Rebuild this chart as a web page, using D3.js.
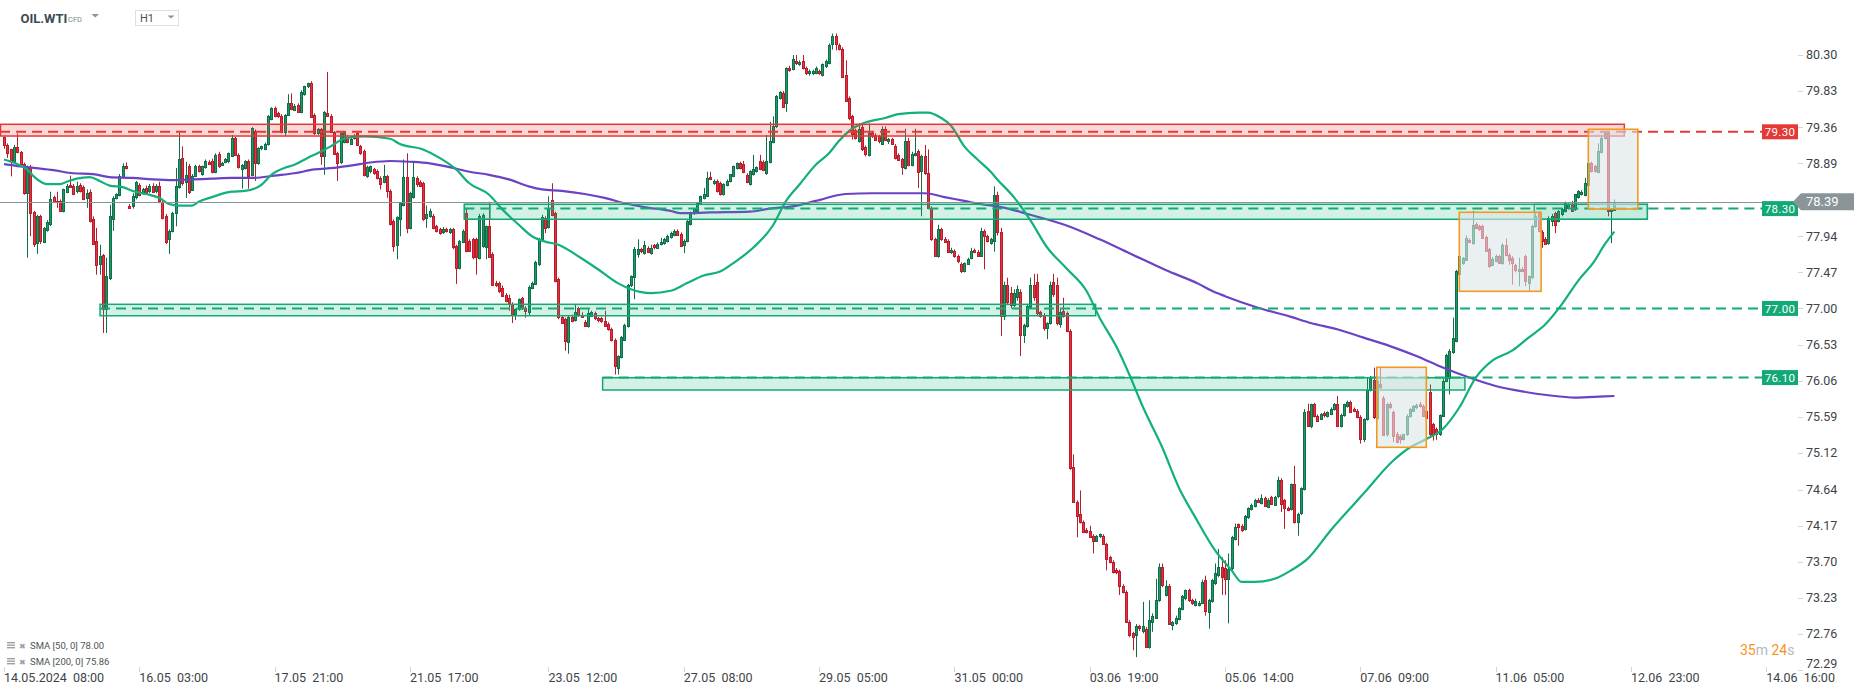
<!DOCTYPE html>
<html><head><meta charset="utf-8">
<script src="https://cdn.jsdelivr.net/npm/d3@7"></script>
<style>
html,body{margin:0;padding:0;background:#fff;overflow:hidden;}
svg{display:block;font-family:Roboto,"Noto Sans",sans-serif;}
</style></head><body>
<svg id="chart" width="1866" height="695"></svg>
<script>
// ---------- DATA ----------
// hourly candles [open, high, low, close]
const ohlc = [
[79.23,79.24,79.08,79.13],[79.13,79.15,78.96,79.02],[79.07,79.08,78.72,78.91],[78.91,79.13,78.89,79.10],[79.10,79.28,79.02,79.04],
[79.04,79.05,78.86,78.88],[78.88,78.90,78.48,78.50],[78.50,78.86,77.66,78.84],[78.84,78.87,77.94,78.24],[78.26,78.27,77.80,77.84],
[77.85,78.22,77.71,78.20],[78.20,78.22,77.84,77.87],[77.87,78.06,77.85,78.05],[78.03,78.15,78.00,78.13],[78.09,78.52,78.07,78.42],
[78.45,78.47,78.38,78.39],[78.40,78.52,78.31,78.39],[78.40,78.42,78.26,78.27],[78.27,78.56,78.25,78.55],[78.52,78.62,78.50,78.60],
[78.61,78.73,78.57,78.58],[78.60,78.62,78.48,78.50],[78.53,78.65,78.50,78.60],[78.61,78.63,78.51,78.53],[78.58,78.60,78.41,78.43],
[78.43,78.55,78.31,78.50],[78.51,78.55,78.12,78.13],[78.17,78.20,77.84,77.85],[77.88,78.05,77.44,77.57],[77.58,77.83,77.44,77.68],
[77.69,77.71,76.68,76.99],[76.99,77.66,76.68,77.42],[77.39,78.35,77.37,78.20],[78.17,78.46,78.01,78.44],[78.44,78.50,78.42,78.49],
[78.48,78.75,78.46,78.73],[78.72,78.89,78.70,78.86],[78.86,78.90,78.81,78.83],[78.34,78.36,78.30,78.32],[78.34,78.50,78.30,78.47],
[78.44,78.66,78.42,78.64],[78.61,78.63,78.46,78.48],[78.50,78.57,78.48,78.55],[78.57,78.60,78.49,78.50],[78.52,78.62,78.50,78.59],
[78.60,78.63,78.51,78.52],[78.53,78.62,78.50,78.59],[78.59,78.65,78.37,78.39],[78.39,78.41,78.16,78.18],[78.21,78.23,77.84,77.87],
[77.90,78.03,77.71,78.01],[78.01,78.26,77.99,78.24],[78.24,78.83,78.07,78.59],[78.58,79.29,78.56,78.94],[78.96,79.11,78.60,78.63],
[78.65,78.91,78.44,78.74],[78.86,78.88,78.49,78.52],[78.55,78.75,78.53,78.73],[78.73,78.87,78.71,78.86],[78.85,78.87,78.77,78.78],
[78.75,78.86,78.73,78.85],[78.84,78.94,78.82,78.92],[78.91,78.93,78.87,78.89],[78.92,78.95,78.76,78.78],[78.78,79.02,78.76,79.00],
[79.01,79.04,78.83,78.85],[78.87,78.91,78.86,78.90],[78.91,78.96,78.89,78.95],[78.91,79.03,78.89,79.02],[78.99,79.26,78.97,79.22],
[79.22,79.24,78.99,79.00],[79.00,79.02,78.82,78.84],[78.82,78.88,78.56,78.87],[78.83,78.93,78.81,78.92],[78.92,78.94,78.56,78.72],
[78.74,79.36,78.72,79.35],[79.31,79.33,78.66,78.89],[78.89,79.10,78.87,79.09],[79.08,79.12,79.06,79.11],[79.08,79.16,79.06,79.14],
[79.14,79.52,79.12,79.50],[79.47,79.62,79.45,79.61],[79.61,79.63,79.49,79.50],[79.54,79.56,79.48,79.50],[79.51,79.53,79.28,79.30],
[79.30,79.53,79.24,79.52],[79.53,79.79,79.51,79.68],[79.67,79.80,79.58,79.59],[79.59,79.66,79.57,79.64],[79.65,79.67,79.55,79.56],
[79.56,79.84,79.54,79.82],[79.79,79.90,79.77,79.89],[79.89,79.94,79.87,79.93],[79.94,79.96,79.48,79.50],[79.52,79.54,79.26,79.28],
[79.28,79.35,79.26,79.33],[79.33,79.35,78.87,78.98],[78.99,79.57,78.74,79.56],[79.55,80.08,79.50,79.51],[79.51,79.53,79.29,79.30],
[79.30,79.31,79.00,79.02],[79.02,79.04,78.66,78.89],[78.90,79.29,78.88,79.28],[79.17,79.31,79.15,79.30],[79.23,79.26,79.15,79.17],
[79.15,79.23,79.13,79.21],[79.22,79.27,79.20,79.25],[79.28,79.30,79.12,79.13],[79.11,79.13,79.00,79.02],[79.05,79.07,78.72,78.74],
[78.72,78.86,78.70,78.84],[78.78,78.86,78.76,78.85],[78.81,78.83,78.74,78.76],[78.79,78.81,78.68,78.70],[78.70,78.72,78.55,78.62],
[78.65,78.87,78.63,78.73],[78.72,78.74,78.44,78.52],[78.53,78.55,78.08,78.10],[78.14,78.16,77.74,77.82],[77.83,78.20,77.64,78.19],
[78.16,78.38,77.94,78.37],[78.35,78.94,78.33,78.71],[78.71,79.02,77.98,78.05],[78.05,78.52,78.03,78.50],[78.45,78.91,78.43,78.71],
[78.70,78.72,78.58,78.62],[78.65,78.67,78.58,78.60],[78.63,78.65,78.14,78.16],[78.18,78.34,78.05,78.23],[78.20,78.30,78.18,78.27],
[78.21,78.23,78.03,78.05],[78.07,78.09,77.99,78.01],[78.03,78.05,77.96,77.98],[77.99,78.06,77.97,78.03],[78.03,78.05,77.99,78.01],
[77.99,78.05,77.97,78.03],[78.03,78.05,77.77,77.79],[77.81,77.83,77.32,77.53],[77.53,77.89,77.51,77.88],[77.87,78.03,77.85,78.01],
[78.24,78.31,77.73,77.75],[77.88,77.90,77.74,77.75],[77.90,77.92,77.64,77.66],[77.90,77.92,77.44,77.66],[77.66,78.23,77.64,78.21],
[77.81,78.24,77.79,78.22],[77.81,78.08,77.64,78.08],[78.08,78.39,77.66,77.68],[77.71,77.73,77.30,77.31],[77.33,77.36,77.28,77.30],
[77.33,77.35,77.20,77.23],[77.27,77.30,77.15,77.16],[77.18,77.20,77.08,77.10],[77.13,77.18,76.97,77.06],[77.06,77.08,76.81,76.93],
[76.92,77.00,76.85,76.99],[76.99,77.13,76.97,77.12],[77.13,77.15,76.98,77.00],[77.01,77.03,76.88,76.97],[76.96,77.30,76.90,77.28],
[77.27,77.35,77.25,77.33],[77.33,77.62,77.31,77.61],[77.57,77.92,77.55,77.90],[77.90,78.22,77.88,78.19],[78.18,78.20,77.98,78.05],
[78.06,78.46,78.04,78.29],[78.41,78.63,78.20,78.22],[78.24,78.26,77.34,77.36],[77.38,77.40,76.86,76.88],[76.89,76.91,76.80,76.81],
[76.86,76.88,76.45,76.57],[76.57,76.90,76.41,76.89],[76.89,76.92,76.82,76.84],[76.85,77.06,76.83,76.96],[77.00,77.02,76.89,76.91],
[76.92,76.95,76.88,76.90],[76.83,76.85,76.76,76.78],[76.77,77.00,76.75,76.94],[76.91,76.97,76.89,76.96],[76.94,76.96,76.85,76.87],
[76.87,76.89,76.82,76.84],[76.87,76.89,76.81,76.83],[76.84,76.97,76.76,76.77],[76.80,76.82,76.71,76.73],[76.73,76.75,76.57,76.59],
[76.59,76.61,76.14,76.25],[76.22,76.39,76.14,76.38],[76.37,76.64,76.35,76.63],[76.60,76.80,76.58,76.79],[76.77,77.32,76.75,77.31],
[77.30,77.43,77.28,77.42],[77.41,77.80,77.12,77.77],[77.70,77.90,77.66,77.77],[77.77,77.79,77.72,77.74],[77.72,77.88,77.70,77.82],
[77.79,77.81,77.72,77.74],[77.72,77.83,77.70,77.79],[77.82,77.84,77.77,77.79],[77.79,77.86,77.78,77.84],[77.84,77.92,77.82,77.87],
[77.85,77.92,77.83,77.90],[77.88,77.96,77.86,77.94],[77.93,78.00,77.91,77.98],[77.96,78.03,77.94,78.01],[78.01,78.03,77.95,77.96],
[77.97,77.99,77.80,77.81],[77.83,77.90,77.72,77.88],[77.88,78.15,77.86,78.14],[78.10,78.26,78.08,78.25],[78.24,78.30,78.22,78.29],
[78.26,78.37,78.24,78.37],[78.37,78.47,78.35,78.46],[78.44,78.57,78.42,78.49],[78.47,78.78,78.45,78.70],[78.71,78.78,78.67,78.68],
[78.63,78.68,78.61,78.66],[78.66,78.68,78.51,78.53],[78.63,78.65,78.47,78.49],[78.49,78.63,78.47,78.62],[78.61,78.68,78.59,78.66],
[78.66,78.75,78.64,78.75],[78.73,78.86,78.71,78.86],[78.83,78.90,78.81,78.89],[78.89,78.91,78.81,78.83],[78.88,78.92,78.76,78.78],
[78.74,78.76,78.63,78.65],[78.62,78.80,78.60,78.79],[78.75,79.00,78.73,78.81],[78.79,78.85,78.77,78.84],[78.92,79.00,78.80,78.81],
[78.91,78.93,78.79,78.81],[78.76,79.26,78.74,78.92],[78.91,79.43,78.89,79.18],[79.17,79.50,79.15,79.38],[79.37,79.78,79.35,79.76],
[79.74,79.83,79.72,79.82],[79.81,79.83,79.61,79.63],[79.67,80.14,79.56,80.13],[80.13,80.16,80.08,80.10],[80.12,80.30,80.10,80.25],
[80.22,80.30,80.17,80.19],[80.18,80.23,80.16,80.21],[80.22,80.30,80.11,80.13],[80.13,80.15,80.04,80.06],[80.06,80.11,80.03,80.09],
[80.06,80.11,80.04,80.09],[80.07,80.15,80.05,80.13],[80.09,80.11,80.04,80.06],[80.04,80.19,80.02,80.18],[80.15,80.24,80.13,80.22],
[80.20,80.45,80.18,80.43],[80.45,80.58,80.37,80.55],[80.55,80.58,80.36,80.45],[80.43,80.45,80.36,80.38],[80.38,80.40,80.01,80.02],
[80.04,80.23,79.69,79.70],[79.74,79.76,79.45,79.48],[79.50,79.52,79.20,79.26],[79.32,79.34,79.20,79.22],[79.18,79.41,79.16,79.33],
[79.36,79.39,79.05,79.07],[79.10,79.12,78.98,79.01],[79.00,79.41,78.98,79.28],[79.28,79.30,79.22,79.24],[79.26,79.28,79.18,79.20],
[79.24,79.26,79.15,79.18],[79.15,79.37,79.13,79.34],[79.34,79.37,79.19,79.20],[79.17,79.22,79.14,79.20],[79.20,79.22,79.13,79.14],
[79.12,79.14,78.94,78.96],[79.00,79.02,78.92,78.94],[78.94,78.96,78.74,78.83],[78.83,79.34,78.81,79.18],[79.18,79.22,78.85,78.87],
[78.87,79.04,78.85,79.01],[79.00,79.34,78.98,79.02],[79.05,79.07,78.57,78.78],[78.78,79.00,78.20,78.98],[78.98,79.13,78.74,78.76],
[78.76,79.07,78.30,78.31],[78.31,78.33,77.88,77.90],[77.90,77.92,77.67,77.68],[77.68,78.09,77.66,78.03],[78.03,78.05,77.88,77.90],
[77.91,77.93,77.86,77.87],[77.88,77.90,77.73,77.74],[77.73,77.79,77.71,77.76],[77.75,77.77,77.66,77.68],[77.68,77.70,77.59,77.62],
[77.58,77.60,77.46,77.49],[77.49,77.60,77.47,77.59],[77.59,77.66,77.57,77.65],[77.66,77.79,77.64,77.75],[77.76,77.78,77.72,77.74],
[77.74,77.76,77.68,77.69],[77.69,78.05,77.67,78.01],[78.01,78.03,77.51,77.94],[77.94,77.96,77.86,77.88],[77.85,77.92,77.83,77.90],
[77.88,78.59,77.74,78.48],[78.48,78.52,77.95,78.00],[78.00,78.05,76.64,76.90],[76.90,77.35,76.85,77.30],[77.30,77.40,77.05,77.08],
[77.20,77.28,77.00,77.05],[77.05,77.25,77.02,77.20],[77.15,77.30,77.10,77.25],[77.22,77.25,76.38,76.66],[76.66,76.80,76.55,76.79],
[76.77,77.05,76.75,77.03],[77.01,77.40,76.99,77.30],[77.30,77.45,77.10,77.15],[77.35,77.45,76.90,76.95],[76.95,76.97,76.88,76.90],
[76.92,76.94,76.71,76.75],[76.75,76.82,76.60,76.81],[76.81,77.35,76.79,77.30],[77.35,77.45,77.15,77.20],[77.30,77.40,76.78,76.80],
[76.80,77.00,76.75,76.95],[76.97,77.14,76.88,76.90],[76.94,76.96,76.69,76.71],[76.71,76.73,74.90,74.93],[74.93,75.10,74.47,74.48],
[74.48,74.50,74.02,74.30],[74.32,74.63,74.20,74.22],[74.22,74.24,74.08,74.09],[74.12,74.14,74.07,74.09],[74.10,74.17,74.01,74.02],
[74.04,74.06,73.81,73.97],[73.98,74.05,73.96,74.04],[74.03,74.07,74.01,74.06],[74.04,74.06,73.92,73.94],[73.93,73.95,73.59,73.74],
[73.76,73.78,73.68,73.70],[73.70,73.72,73.55,73.57],[73.59,73.62,73.54,73.57],[73.58,73.60,73.27,73.39],[73.39,73.41,73.29,73.31],
[73.31,73.33,72.92,72.92],[72.92,72.94,72.72,72.75],[72.77,72.79,72.55,72.72],[72.75,72.89,72.46,72.87],[72.86,72.88,72.80,72.83],
[72.79,73.18,72.77,72.86],[72.83,72.85,72.58,72.59],[72.59,73.20,72.57,72.94],[72.92,73.03,72.79,73.00],[72.98,73.48,72.96,73.21],
[73.20,73.68,73.18,73.63],[73.63,73.68,73.37,73.39],[73.27,73.46,73.25,73.39],[73.39,73.41,72.88,72.90],[72.88,72.93,72.81,72.92],
[72.90,73.00,72.88,72.97],[72.96,73.11,72.94,73.10],[73.09,73.27,73.07,73.26],[73.22,73.34,73.20,73.33],[73.33,73.35,73.18,73.20],
[73.20,73.22,73.14,73.16],[73.14,73.22,73.12,73.19],[73.14,73.19,73.12,73.17],[73.17,73.47,73.15,73.44],[73.46,73.52,73.00,73.05],
[73.05,73.22,72.83,73.20],[73.19,73.48,73.17,73.46],[73.42,73.68,73.40,73.55],[73.52,73.87,73.50,73.63],[73.64,73.76,73.27,73.51],
[73.62,73.72,73.27,73.48],[73.48,73.81,72.90,73.61],[73.61,74.04,73.59,74.02],[74.00,74.20,73.98,74.15],[74.19,74.20,73.91,74.15],
[74.17,74.19,74.09,74.12],[74.13,74.31,74.11,74.30],[74.28,74.41,74.26,74.40],[74.39,74.46,74.37,74.44],[74.43,74.52,74.41,74.51],
[74.51,74.53,74.47,74.48],[74.47,74.58,74.45,74.53],[74.53,74.55,74.43,74.43],[74.42,74.53,74.40,74.51],[74.54,74.56,74.44,74.45],
[74.45,74.56,74.43,74.55],[74.55,74.81,74.53,74.76],[74.77,74.79,74.35,74.46],[74.50,74.52,74.13,74.40],[74.40,74.42,74.36,74.38],
[74.39,74.72,74.37,74.71],[74.71,74.95,74.20,74.21],[74.22,74.34,74.04,74.33],[74.33,74.67,74.31,74.66],[74.65,75.69,74.63,75.65],
[75.67,75.76,75.46,75.47],[75.46,75.76,75.44,75.75],[75.75,75.77,75.58,75.59],[75.60,75.62,75.53,75.54],[75.57,75.64,75.55,75.63],
[75.64,75.66,75.58,75.61],[75.60,75.66,75.58,75.65],[75.63,75.71,75.61,75.69],[75.69,75.77,75.67,75.75],[75.75,75.86,75.46,75.47],
[75.47,75.63,75.45,75.61],[75.61,75.76,75.59,75.75],[75.73,75.80,75.71,75.78],[75.78,75.80,75.64,75.65],[75.69,75.71,75.65,75.67],
[75.67,75.69,75.57,75.59],[75.59,75.61,75.24,75.30],[75.30,75.57,75.26,75.56],[75.56,76.10,75.54,75.94],[75.94,76.12,75.92,76.10],
[76.07,76.23,75.56,75.59],[75.58,76.08,75.55,76.06],[76.01,76.24,75.95,75.97],[75.84,75.86,75.34,75.36],[75.36,75.77,75.33,75.75],
[75.75,75.78,75.69,75.71],[75.65,75.67,75.26,75.34],[75.37,75.39,75.25,75.26],[75.34,75.36,75.24,75.30],[75.30,75.37,75.28,75.36],
[75.36,75.62,75.34,75.60],[75.60,75.70,75.58,75.69],[75.67,75.74,75.65,75.73],[75.71,75.76,75.69,75.74],[75.75,75.78,75.71,75.72],
[75.73,75.75,75.59,75.60],[75.67,75.69,75.57,75.58],[75.91,76.01,75.34,75.36],[75.49,75.51,75.28,75.36],[75.43,75.45,75.29,75.36],
[75.36,75.62,75.34,75.61],[75.61,76.08,75.59,76.06],[76.06,76.41,76.04,76.40],[76.10,76.47,75.88,76.45],[76.43,76.88,76.41,76.61],
[76.58,77.50,76.56,77.49],[77.44,77.68,77.27,77.68],[77.59,77.67,77.57,77.66],[77.64,77.95,77.62,77.92],[77.89,77.91,77.86,77.87],
[77.85,78.27,77.83,78.09],[78.10,78.12,78.04,78.05],[78.07,78.09,78.01,78.03],[78.07,78.09,77.91,77.92],[77.93,77.95,77.74,77.75],
[77.77,77.79,77.53,77.55],[77.57,77.67,77.55,77.65],[77.62,77.70,77.60,77.68],[77.68,77.70,77.58,77.59],[77.59,77.85,77.57,77.83],
[77.82,77.91,77.68,77.69],[77.70,77.72,77.57,77.64],[77.66,77.68,77.31,77.59],[77.56,77.58,77.47,77.49],[77.49,77.66,77.29,77.52],
[77.52,77.54,77.47,77.49],[77.68,77.70,77.29,77.36],[77.33,77.43,77.23,77.42],[77.40,78.09,77.38,78.07],[78.07,78.24,78.05,78.20],
[78.24,78.26,77.99,78.00],[78.00,78.02,77.79,77.88],[77.91,77.93,77.84,77.85],[77.85,78.20,77.83,78.18],[78.14,78.23,78.07,78.21],
[78.24,78.26,77.98,78.09],[78.14,78.28,78.12,78.27],[78.22,78.31,78.20,78.29],[78.27,78.39,78.25,78.37],[78.31,78.37,78.29,78.36],
[78.36,78.40,78.26,78.27],[78.29,78.49,78.27,78.49],[78.45,78.54,78.43,78.53],[78.49,78.54,78.47,78.52],[78.48,78.70,78.46,78.63],
[78.61,78.91,78.59,78.89],[78.89,78.91,78.77,78.79],[78.85,78.87,78.77,78.79],[78.78,79.15,78.76,79.05],[79.04,79.26,79.02,79.22],
[79.22,79.30,79.20,79.28],[79.28,79.31,78.20,78.27],[78.27,78.31,77.85,78.29],[78.29,78.42,78.27,78.39]
];
// SMA samples: [bar index, value]
const sma50 = [[0,78.94],[4,78.88],[7,78.81],[9,78.72],[13,78.62],[17,78.62],[19,78.65],[22,78.69],[26,78.71],[29,78.66],[32,78.60],[36,78.58],[39,78.53],[43,78.49],[47,78.44],[50,78.36],[53,78.34],[57,78.34],[59,78.39],[63,78.45],[69,78.52],[73,78.53],[78,78.61],[81,78.74],[85,78.83],[88,78.87],[92,78.96],[95,79.02],[99,79.11],[103,79.21],[109,79.24],[117,79.21],[120,79.14],[127,79.07],[132,78.96],[137,78.81],[141,78.63],[147,78.48],[151,78.29],[156,78.09],[160,77.94],[164,77.87],[168,77.83],[174,77.68],[180,77.51],[186,77.33],[190,77.25],[196,77.20],[202,77.23],[207,77.33],[212,77.43],[217,77.48],[221,77.59],[227,77.79],[233,78.08],[237,78.40],[241,78.61],[246,78.87],[250,79.02],[253,79.18],[257,79.34],[261,79.42],[267,79.48],[271,79.53],[277,79.55],[280,79.55],[284,79.48],[287,79.38],[291,79.11],[295,78.94],[299,78.78],[301,78.68],[306,78.45],[311,78.15],[316,77.80],[322,77.52],[328,77.23],[332,76.88],[337,76.51],[341,76.14],[345,75.73],[351,75.19],[356,74.67],[361,74.28],[367,73.85],[372,73.59],[375,73.44],[379,73.44],[385,73.48],[390,73.59],[395,73.74],[402,74.11],[412,74.59],[421,75.02],[426,75.19],[431,75.30],[436,75.43],[441,75.71],[446,76.10],[451,76.32],[457,76.45],[462,76.62],[467,76.79],[472,77.05],[477,77.36],[482,77.62],[485,77.83],[488,78.00]];
const sma200 = [[0,78.88],[5,78.85],[9,78.83],[15,78.80],[21,78.76],[27,78.75],[32,78.71],[39,78.70],[45,78.68],[51,78.67],[57,78.68],[63,78.69],[69,78.70],[76,78.70],[82,78.73],[88,78.76],[94,78.81],[100,78.83],[105,78.86],[111,78.90],[117,78.92],[123,78.91],[129,78.89],[135,78.84],[141,78.78],[147,78.74],[153,78.68],[159,78.59],[163,78.55],[169,78.53],[176,78.49],[182,78.44],[188,78.37],[194,78.32],[202,78.27],[205,78.24],[214,78.25],[226,78.26],[232,78.30],[239,78.33],[246,78.40],[255,78.49],[263,78.50],[271,78.50],[279,78.50],[285,78.45],[291,78.40],[297,78.35],[301,78.33],[311,78.22],[322,78.08],[332,77.90],[342,77.70],[352,77.50],[362,77.32],[366,77.23],[370,77.16],[380,77.01],[390,76.89],[396,76.81],[404,76.73],[412,76.62],[420,76.51],[428,76.38],[436,76.23],[444,76.10],[452,75.99],[460,75.92],[468,75.87],[476,75.84],[482,75.85],[488,75.86]];
const yTickValues = [80.30,79.83,79.36,78.89,77.94,77.47,77.00,76.53,76.06,75.59,75.12,74.64,74.17,73.70,73.23,72.76,72.29];
const xTickIndex = [0,41,82,123,165,206,247,288,329,370,411,452,493,534];
const xTickLabels = ["14.05.2024  08:00","16.05  03:00","17.05  21:00","21.05  17:00","23.05  12:00","27.05  08:00","29.05  05:00","31.05  00:00","03.06  19:00","05.06  14:00","07.06  09:00","11.06  05:00","12.06  23:00","14.06  16:00"];
// horizontal levels: price, zone [startIdx, endIdx, top, bottom], colour
const levelPrices = [79.30, 78.30, 77.00, 76.10];
const levelKinds = ["resistance","support","support","support"];
const zoneStart = [-1.2, 139.5, 29.1, 181.4];
const zoneEnd = [491, 498, 330.8, 442.7];
const zoneTop = [79.398, 78.356, 77.054, 76.098];
const zoneBottom = [79.245, 78.161, 76.905, 75.938];
const extraZones = [[139.5,147.3,78.356,78.161],[463.7,498,78.356,78.161]];
// orange consolidation boxes: [startIdx, endIdx, high, low]
const boxes = [[416,431,76.234,75.192],[441,465.8,78.252,77.223],[480.1,495.1,79.333,78.295]];
const lastPrice = 78.39;
const legendItems = ["SMA [50, 0] 78.00","SMA [200, 0] 75.86"];

// ---------- CHART ----------
const svg = d3.select("#chart");
const x = d3.scaleLinear().domain([0,534]).range([4,1766.2]);
const y = d3.scaleLinear().domain([80.30,72.29]).range([55.0,670.2]);
const plotRight = 1798;
const colors = {resistance:"#e53935", support:"#13a977"};
const zoneFill = {resistance:"#f03b3b", support:"#1ab27a"};

// candles
const cg = svg.append("g");
const cx = i => Math.round(x(i));
cg.selectAll("line.wick").data(ohlc).join("line")
  .attr("x1",(d,i)=>cx(i)+0.5).attr("x2",(d,i)=>cx(i)+0.5)
  .attr("y1",d=>y(d[1])).attr("y2",d=>y(d[2]))
  .attr("stroke",d=>d[3]>=d[0]?"#0e6f48":"#b81d2c").attr("stroke-width",1);
cg.selectAll("rect.body").data(ohlc).join("rect")
  .attr("x",(d,i)=>cx(i)-0.5).attr("width",2)
  .attr("y",d=>Math.round(y(Math.max(d[0],d[3])))+0.5)
  .attr("height",d=>Math.max(1,Math.round(Math.abs(y(d[0])-y(d[3])))))
  .attr("fill",d=>d[3]>=d[0]?"#1f9868":"#e8303f")
  .attr("stroke",d=>d[3]>=d[0]?"#0e6f48":"#b81d2c").attr("stroke-width",1);

// SMA lines
const line = d3.line().x(d=>x(d[0])).y(d=>y(d[1])).curve(d3.curveMonotoneX);
svg.append("path").attr("d",line(sma200)).attr("fill","none").attr("stroke","#6a43c4").attr("stroke-width",2.2);
svg.append("path").attr("d",line(sma50)).attr("fill","none").attr("stroke","#12b07b").attr("stroke-width",2.2);

// dashed level lines (under zone fills)
levelPrices.forEach((p,k)=>{
  svg.append("line").attr("x1",Math.max(0,x(zoneStart[k]))).attr("x2",1762)
    .attr("y1",y(p)).attr("y2",y(p))
    .attr("stroke",colors[levelKinds[k]]).attr("stroke-width",2).attr("stroke-dasharray","10,6");
});
// zones
levelPrices.forEach((p,k)=>{
  const kind = levelKinds[k];
  svg.append("rect").attr("x",Math.max(0.5,x(zoneStart[k]))).attr("y",y(zoneTop[k]))
    .attr("width",x(zoneEnd[k])-Math.max(0.5,x(zoneStart[k]))).attr("height",y(zoneBottom[k])-y(zoneTop[k]))
    .attr("fill",zoneFill[kind]).attr("fill-opacity",kind==="resistance"?0.2:0.19)
    .attr("stroke",colors[kind]).attr("stroke-width",1.5);
});
extraZones.forEach(z=>{
  svg.append("rect").attr("x",x(z[0])).attr("y",y(z[2])).attr("width",x(z[1])-x(z[0])).attr("height",y(z[3])-y(z[2]))
    .attr("fill","#1ab27a").attr("fill-opacity",0.08).attr("stroke","#13a977").attr("stroke-width",1.2);
});
// boxes
boxes.forEach(b=>{
  svg.append("rect").attr("x",x(b[0])).attr("y",y(b[2])).attr("width",x(b[1])-x(b[0])).attr("height",y(b[3])-y(b[2]))
    .attr("fill","#dce5e8").attr("fill-opacity",0.6).attr("stroke","#f39a1e").attr("stroke-width",1.6);
});

// last price line
svg.append("line").attr("x1",0).attr("x2",1794).attr("y1",Math.round(y(lastPrice))+0.5).attr("y2",Math.round(y(lastPrice))+0.5)
  .attr("stroke","#8b9296").attr("stroke-width",1.2);

// y axis
yTickValues.forEach(v=>{
  const yy = Math.min(y(v), 664);
  svg.append("line").attr("x1",plotRight).attr("x2",plotRight+5).attr("y1",Math.round(y(v))+0.5).attr("y2",Math.round(y(v))+0.5)
    .attr("stroke","#d5d5d5");
  svg.append("text").attr("x",1806).attr("y",yy).attr("dy","0.35em").attr("font-size",12.5)
    .attr("fill","#3d4449").text(v.toFixed(2));
});
// level labels
levelPrices.forEach((p,k)=>{
  const yy = y(p);
  svg.append("rect").attr("x",1762).attr("y",yy-7.5).attr("width",36).attr("height",15).attr("fill",colors[levelKinds[k]]);
  svg.append("text").attr("x",1780).attr("y",yy).attr("dy","0.36em").attr("text-anchor","middle")
    .attr("font-size",11.5).attr("fill","#fff").attr("letter-spacing",0.3).text(p.toFixed(2));
});
// last price label
{
  const yy = y(lastPrice);
  svg.append("path").attr("d",`M1793,${yy} L1801,${yy-8.5} L1854,${yy-8.5} L1854,${yy+8.5} L1801,${yy+8.5} Z`).attr("fill","#8a9499");
  svg.append("text").attr("x",1806).attr("y",yy).attr("dy","0.36em").attr("font-size",13).attr("fill","#fff").text(lastPrice.toFixed(2));
}

// x axis
xTickIndex.forEach((t,k)=>{
  const xx = Math.round(x(t))+0.5;
  svg.append("line").attr("x1",xx).attr("x2",xx).attr("y1",667).attr("y2",672).attr("stroke","#d5d5d5");
  svg.append("text").attr("x",x(t)).attr("y",681.5).attr("font-size",12.5).attr("fill","#3d4449")
    .style("white-space","pre").text(xTickLabels[k]);
});

// header
svg.append("text").attr("x",20.5).attr("y",22.5).attr("font-size",13).attr("font-weight","bold").attr("fill","#3b4a55").text("OIL.WTI");
svg.append("text").attr("x",68).attr("y",22).attr("font-size",7.5).attr("fill","#7d868c").text("CFD");
svg.append("path").attr("d","M91.5,14 L99,14 L95.25,17.5 Z").attr("fill","#8c959b");
svg.append("rect").attr("x",135.5).attr("y",10.5).attr("width",43).attr("height",15).attr("fill","#fff").attr("stroke","#dde1e3");
svg.append("text").attr("x",140).attr("y",22).attr("font-size",11).attr("fill","#4a545b").text("H1");
svg.append("path").attr("d","M167.5,15.5 L174.5,15.5 L171,18.5 Z").attr("fill","#8c959b");

// legend
legendItems.forEach((t,k)=>{
  const yy = 646 + k*16;
  const g = svg.append("g").attr("fill","#9aa1a6");
  [0,2.5,5].forEach(o=>g.append("rect").attr("x",7).attr("y",yy-4+o).attr("width",8).attr("height",1.4));
  g.append("text").attr("x",19).attr("y",yy).attr("dy","0.35em").attr("font-size",8).text("✖");
  svg.append("text").attr("x",30).attr("y",yy).attr("dy","0.35em").attr("font-size",9.5).attr("fill","#4b5459").text(t);
});

// timer
const tm = svg.append("text").attr("x",1740).attr("y",655).attr("font-size",14);
tm.append("tspan").attr("fill","#f7931e").text("35");
tm.append("tspan").attr("fill","#b4b9bc").text("m ");
tm.append("tspan").attr("fill","#f7931e").text("24");
tm.append("tspan").attr("fill","#b4b9bc").text("s");
</script>
</body></html>
